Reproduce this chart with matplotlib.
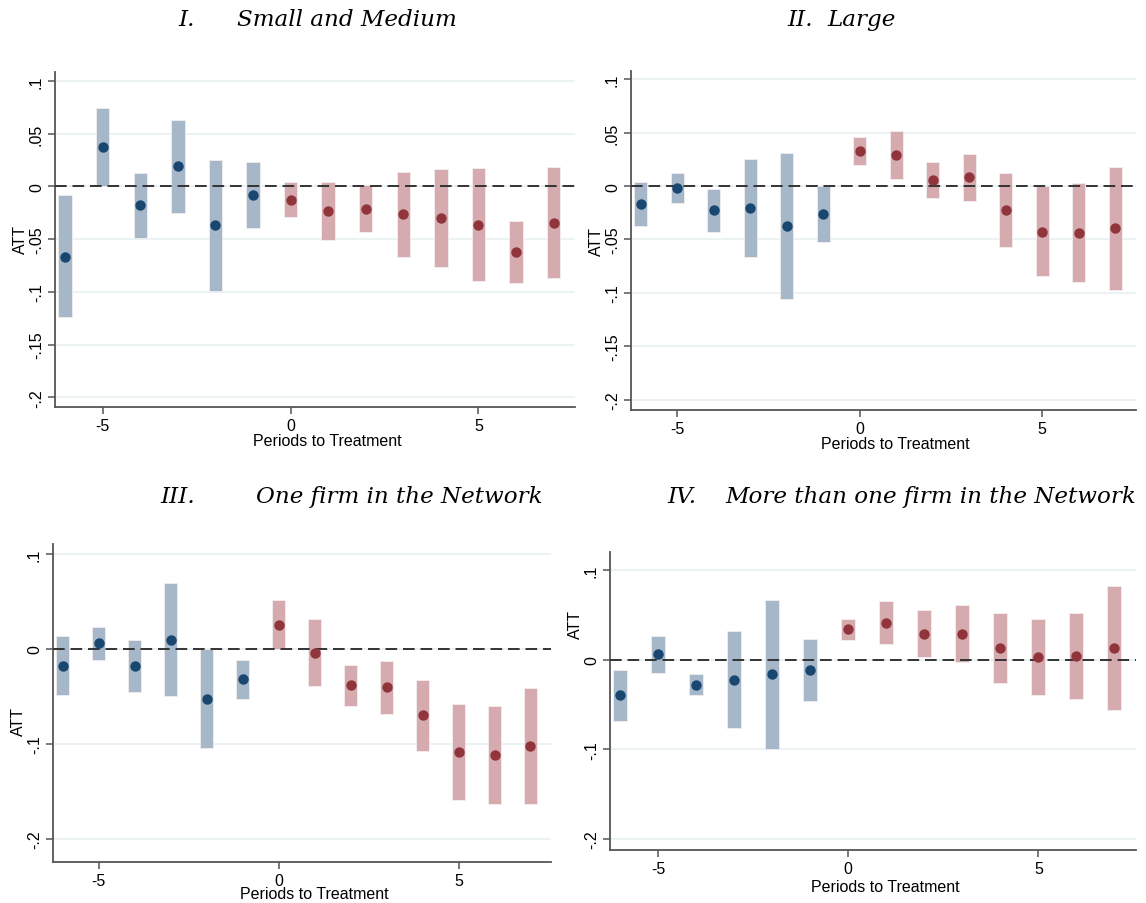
import matplotlib
matplotlib.use("Agg")
import matplotlib.pyplot as plt

periods = [-6, -5, -4, -3, -2, -1, 0, 1, 2, 3, 4, 5, 6, 7]

# I. Small and Medium
att_1 = [-0.0668, 0.0373, -0.018, 0.019, -0.037, -0.0079, -0.0127, -0.0231, -0.0215, -0.0263, -0.030, -0.0364, -0.0623, -0.0345]
lo_1 = [-0.124, 0.0, -0.0494, -0.0253, -0.099, -0.039, -0.0294, -0.051, -0.0437, -0.0665, -0.0766, -0.0899, -0.0918, -0.087]
hi_1 = [-0.0085, 0.0747, 0.013, 0.0633, 0.025, 0.0234, 0.0041, 0.0044, 0.001, 0.0139, 0.0168, 0.0174, -0.0332, 0.0187]

# II. Large
att_2 = [-0.0172, -0.0022, -0.0228, -0.0206, -0.0375, -0.0262, 0.0331, 0.0287, 0.0059, 0.0081, -0.0225, -0.0428, -0.0437, -0.0396]
lo_2 = [-0.0375, -0.0162, -0.0428, -0.0662, -0.106, -0.0524, 0.020, 0.0062, -0.0112, -0.014, -0.0571, -0.084, -0.0896, -0.0974]
hi_2 = [0.0037, 0.0122, -0.0025, 0.025, 0.0309, 0.0, 0.0462, 0.0515, 0.0228, 0.030, 0.0125, 0.0, 0.0028, 0.0181]

# III. One firm in the Network
att_3 = [-0.0176, 0.006, -0.0183, 0.0091, -0.0528, -0.032, 0.0253, -0.0042, -0.0383, -0.0404, -0.0696, -0.1087, -0.1122, -0.1027]
lo_3 = [-0.0489, -0.0113, -0.0457, -0.050, -0.1045, -0.0528, 0.0, -0.0387, -0.0601, -0.0686, -0.1073, -0.1593, -0.1639, -0.1639]
hi_3 = [0.0137, 0.0229, 0.0091, 0.0689, 0.0, -0.0113, 0.0514, 0.031, -0.0165, -0.0123, -0.0324, -0.0577, -0.0601, -0.0415]

# IV. More than one firm in the Network
att_4 = [-0.0398, 0.0063, -0.0279, -0.0223, -0.0164, -0.0115, 0.0338, 0.0413, 0.029, 0.029, 0.0126, 0.0033, 0.0041, 0.0126]
lo_4 = [-0.0688, -0.0145, -0.0398, -0.0762, -0.0993, -0.0465, 0.0219, 0.0171, 0.003, -0.0026, -0.0264, -0.039, -0.0439, -0.0561]
hi_4 = [-0.0112, 0.0264, -0.016, 0.0323, 0.0669, 0.0234, 0.0457, 0.0658, 0.0554, 0.0606, 0.0517, 0.0457, 0.0524, 0.0818]

yticks_fine = [0.1, 0.05, 0, -0.05, -0.1, -0.15, -0.2]
ylabels_fine = [".1", ".05", "0", "-.05", "-.1", "-.15", "-.2"]
yticks_coarse = [0.1, 0, -0.1, -0.2]
ylabels_coarse = [".1", "0", "-.1", "-.2"]
xticks = [-5, 0, 5]

W, H = 1146, 904
BAR_BLUE = "#a5b7c8"
DOT_BLUE = "#1a476f"
BAR_RED = "#d5abb0"
DOT_RED = "#90353b"

plt.rcParams["font.family"] = ["Liberation Sans", "DejaVu Sans"]

fig = plt.figure(figsize=(W / 100, H / 100), dpi=100)


def add_panel(px, att, lo, hi, ylim, yticks, ylabels, xlab_off, ylab_y):
    x0, y0, x1, y1 = px
    ax = fig.add_axes([x0 / W, (H - y1) / H, (x1 - x0) / W, (y1 - y0) / H])
    for x, a, l, h in zip(periods, att, lo, hi):
        pre = x < 0
        ax.bar(x, h - l, bottom=l, width=0.36,
               color=BAR_BLUE if pre else BAR_RED,
               edgecolor="#f3eeee", linewidth=0.6, zorder=2)
        ax.plot(x, a, "o", ms=7.5, color=DOT_BLUE if pre else DOT_RED,
                mec="none", zorder=4)
    ax.axhline(0, color="#333333", lw=1.4, ls=(0, (6, 3)), zorder=3)
    ax.set_xlim(-6.27, 7.57)
    ax.set_ylim(*ylim)
    ax.set_yticks(yticks)
    ax.set_yticklabels(ylabels, rotation=90, va="center", fontsize=11.5)
    ax.set_xticks(xticks)
    ax.set_xticklabels([str(t) for t in xticks], fontsize=11.5)
    ax.grid(axis="y", color="#e8f0f2", lw=1.2, zorder=0)
    ax.set_axisbelow(True)
    for s in ["top", "right"]:
        ax.spines[s].set_visible(False)
    for s in ["left", "bottom"]:
        ax.spines[s].set_color("#555555")
        ax.spines[s].set_linewidth(1.3)
    ax.tick_params(colors="#555555", labelcolor="black", length=5, width=1.1, pad=3)
    ax.set_ylabel("ATT", fontsize=11.5, va="center")
    ax.yaxis.set_label_coords(-35 / (x1 - x0), (y1 - ylab_y) / (y1 - y0))
    ax.set_xlabel("Periods to Treatment", fontsize=11.5, va="center")
    ax.xaxis.set_label_coords(0.5 + 12 / (x1 - x0), -xlab_off / (y1 - y0))
    return ax


add_panel((55, 73, 575, 408), att_1, lo_1, hi_1, (-0.2092, 0.1085),
          yticks_fine, ylabels_fine, 34, 240)
add_panel((631, 72, 1136, 411), att_2, lo_2, hi_2, (-0.2097, 0.1078),
          yticks_fine, ylabels_fine, 34, 242)
add_panel((53, 545, 551, 863), att_3, lo_3, hi_3, (-0.2246, 0.1105),
          yticks_coarse, ylabels_coarse, 32, 722)
add_panel((610, 553, 1136, 851), att_4, lo_4, hi_4, (-0.2123, 0.12),
          yticks_coarse, ylabels_coarse, 37, 625)

title_font = dict(family=["DejaVu Serif"], style="italic",
                  fontsize=16.6, va="center", ha="left")
titles = [
    (178, 20, "I."), (237, 20, "Small and Medium"),
    (787, 20, "II."), (827, 20, "Large"),
    (160, 497, "III."), (256, 497, "One firm in the Network"),
    (667, 497, "IV."), (725, 497, "More than one firm in the Network"),
]
for x, y, t in titles:
    fig.text(x / W, 1 - y / H, t, **title_font)

fig.savefig("out.png", dpi=100)
